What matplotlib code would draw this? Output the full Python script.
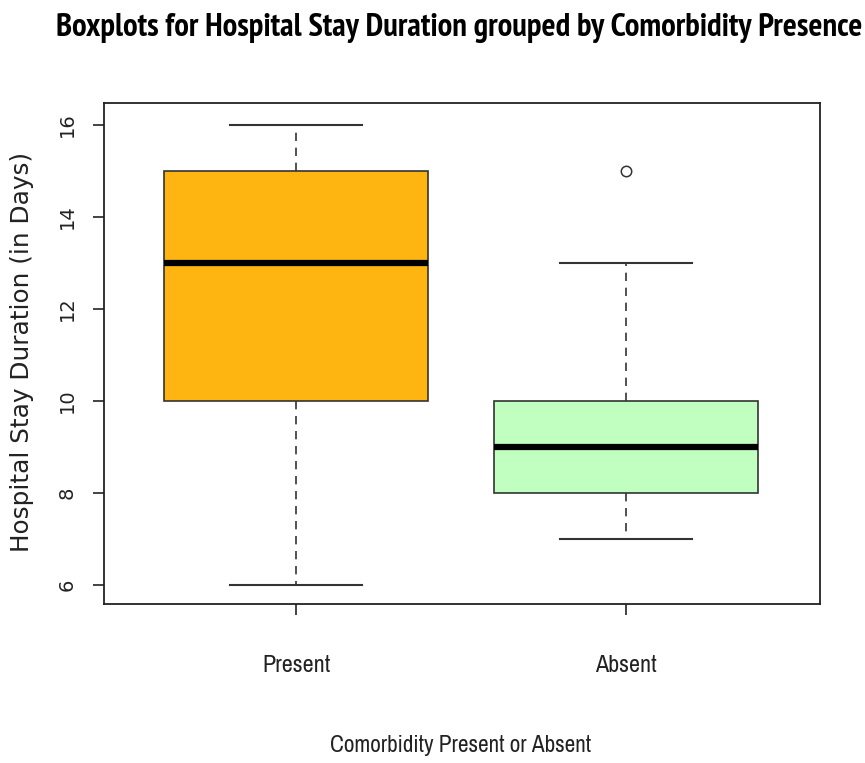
import matplotlib
matplotlib.use("Agg")
import matplotlib.pyplot as plt
import matplotlib.transforms as mtransforms
from matplotlib import font_manager
from matplotlib.font_manager import FontProperties

categories = ["Present", "Absent"]
whisker_low = [6, 7]
q1 = [10, 8]
median = [13, 9]
q3 = [15, 10]
whisker_high = [16, 13]
outliers = [[], [15]]
box_colors = ["#FFB511", "#C1FFC1"]
yticks = [6, 8, 10, 12, 14, 16]


def find_font(bold):
    cands = []
    for f in font_manager.fontManager.ttflist:
        fn = f.fname.lower()
        isbold = ("bold" in fn) or (f.weight in ("bold", 700) or (isinstance(f.weight, int) and f.weight >= 700))
        if isbold != bold or "oblique" in fn or "italic" in fn:
            continue
        if "liberation" in fn and "narrow" in fn:
            cands.append((0, f.fname))
        elif "narrow" in fn:
            cands.append((1, f.fname))
        elif "condensed" in fn and "dejavu" in fn:
            cands.append((2, f.fname))
        elif "condensed" in fn:
            cands.append((3, f.fname))
    if cands:
        cands.sort()
        return FontProperties(fname=cands[0][1])
    return FontProperties(family="Liberation Sans", weight="bold" if bold else "normal")


narrow_reg = find_font(False)
narrow_bold = find_font(True)
wide = FontProperties(family="DejaVu Sans")

fig = plt.figure(figsize=(8.65, 7.63), dpi=100)
W, H = 865, 763
ax = fig.add_axes([104/W, 1-604/H, (820-104)/W, (604-103)/H])

stats = []
for i, c in enumerate(categories):
    stats.append(dict(label=c, whislo=whisker_low[i], q1=q1[i], med=median[i],
                      q3=q3[i], whishi=whisker_high[i], fliers=outliers[i]))

bp = ax.bxp(stats, positions=[1, 2], widths=0.8, patch_artist=True,
            showfliers=True,
            boxprops=dict(edgecolor="#333333", linewidth=1.2),
            medianprops=dict(color="black", linewidth=4.5, solid_capstyle="butt"),
            whiskerprops=dict(color="#333333", linewidth=1.2, linestyle=(0, (5, 4))),
            capprops=dict(color="#333333", linewidth=1.5),
            capwidths=0.4,
            flierprops=dict(marker="o", markerfacecolor="none", markeredgecolor="#333333",
                            markersize=7.5, markeredgewidth=1.1))
for patch, col in zip(bp["boxes"], box_colors):
    patch.set_facecolor(col)

ax.set_xlim(0.418, 2.588)
ax.set_ylim(5.59, 16.48)
ax.set_yticks(yticks)
ax.set_yticklabels([])
ax.set_xticks([1, 2])
ax.set_xticklabels([])
ax.tick_params(axis="both", length=8, width=1.2, colors="#222222")
for s in ax.spines.values():
    s.set_linewidth(1.3)
    s.set_color("#222222")

xt = mtransforms.blended_transform_factory(ax.transData, fig.transFigure)
yt = mtransforms.blended_transform_factory(fig.transFigure, ax.transData)
xtick_texts = []
for i, c in enumerate(categories):
    t = ax.text(i + 1, 1 - 665/H, c, transform=xt, ha="center", va="center",
                fontproperties=narrow_reg.copy(), color="#222222")
    xtick_texts.append(t)
for v in yticks:
    t = ax.text(67/W, v, str(v), transform=yt, ha="center", va="center", rotation=90,
                fontproperties=wide.copy(), color="#222222")
    t.set_fontsize(14)
ylab = fig.text(22/W, 1 - 352/H, "Hospital Stay Duration (in Days)", rotation=90,
                ha="center", va="center", fontproperties=wide.copy(), color="#222222")
xlab = fig.text(461/W, 1 - 745/H, "Comorbidity Present or Absent", ha="center", va="center",
                fontproperties=narrow_reg.copy(), color="#222222")
title = fig.text(459.5/W, 1 - 28/H,
                 "Boxplots for Hospital Stay Duration grouped by Comorbidity Presence",
                 ha="center", va="center", fontproperties=narrow_bold.copy(), color="black")

# fit text sizes to the measured extents of the reference
fits = [([xtick_texts[0], xtick_texts[1]], xtick_texts[0], 68, False),
        ([ylab], ylab, 400, True),
        ([xlab], xlab, 262, False),
        ([title], title, 805, False)]
for group, ref, _, _ in fits:
    for t in group:
        t.set_fontsize(16)
fig.canvas.draw()
r = fig.canvas.get_renderer()
for group, ref, target, vert in fits:
    bb = ref.get_window_extent(r)
    cur = bb.height if vert else bb.width
    for t in group:
        t.set_fontsize(16 * target / cur)

fig.savefig("out.png", dpi=100, facecolor="white")
